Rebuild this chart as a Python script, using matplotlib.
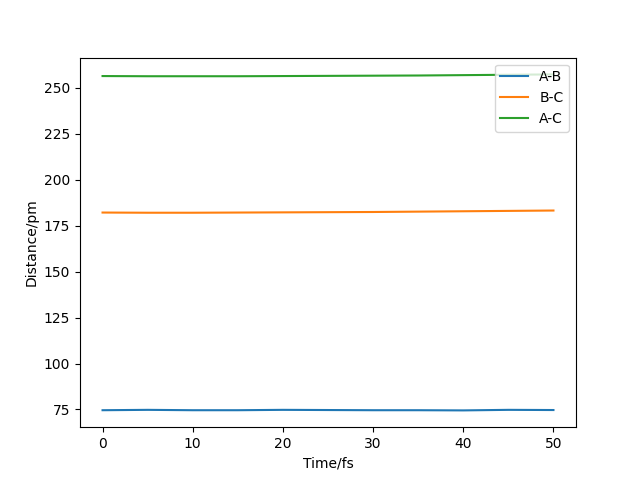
import matplotlib
matplotlib.use("Agg")
import matplotlib.pyplot as plt

time_fs = [0, 5, 10, 15, 20, 25, 30, 35, 40, 45, 50]
ab = [74.6, 74.8, 74.6, 74.6, 74.8, 74.7, 74.6, 74.6, 74.5, 74.8, 74.7]
bc = [182.2, 182.1, 182.1, 182.2, 182.3, 182.4, 182.5, 182.7, 182.9, 183.1, 183.3]
ac = [256.5, 256.4, 256.4, 256.4, 256.5, 256.6, 256.7, 256.8, 257.0, 257.2, 257.4]
labels = ["A-B", "B-C", "A-C"]

fig, ax = plt.subplots(figsize=(6.4, 4.8), dpi=100)
ax.plot(time_fs, ab, label=labels[0])
ax.plot(time_fs, bc, label=labels[1])
ax.plot(time_fs, ac, label=labels[2])
ax.set_xlabel("Time/fs")
ax.set_ylabel("Distance/pm")
ax.legend(loc="upper right")
fig.savefig("out.png")
